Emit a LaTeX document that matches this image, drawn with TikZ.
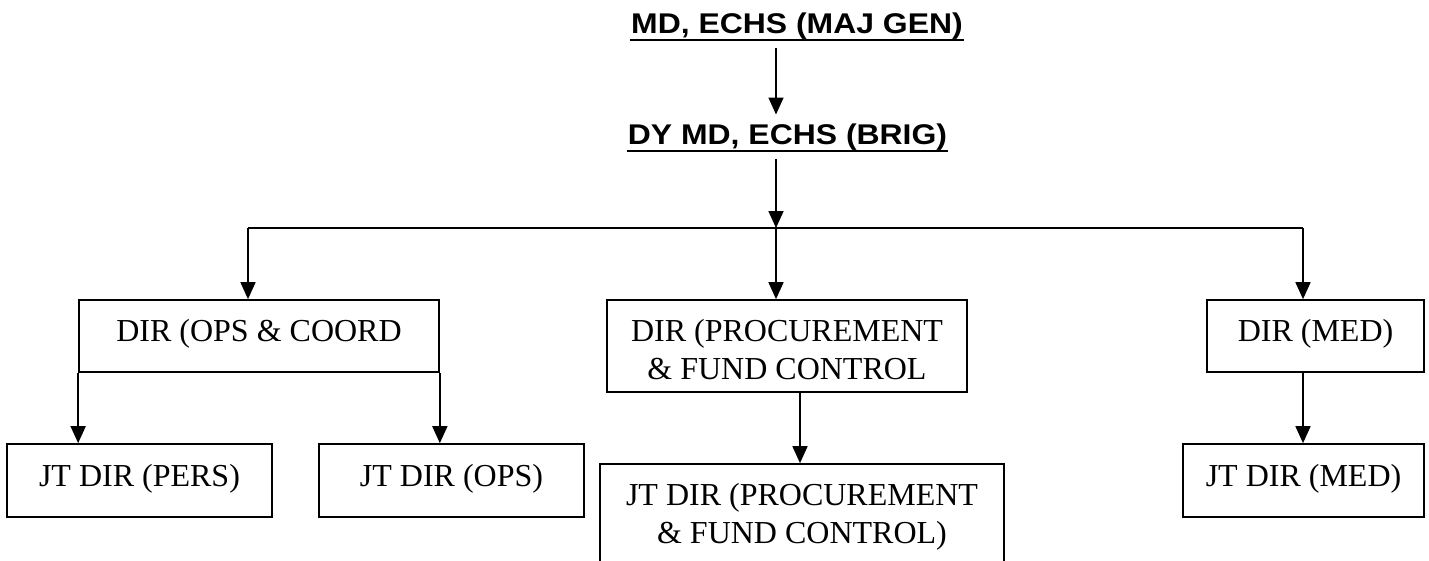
\documentclass[tikz,border=0pt]{standalone}
\usepackage{fontspec}
\setmainfont{Liberation Serif}
\newfontfamily\headfont{Liberation Sans}[FakeStretch=1.12]
\usetikzlibrary{arrows.meta}

\begin{document}
\begin{tikzpicture}[x=1pt,y=-1pt,>={Triangle[length=17pt,width=15pt]},line width=1.7pt,
    post/.style={draw,font=\fontsize{32}{38}\selectfont,inner sep=0pt,text height=26pt,text depth=15pt},
    head/.style={font=\headfont\bfseries\fontsize{28.5}{32}\selectfont,inner xsep=0pt,inner ysep=8pt,anchor=base}]
                \useasboundingbox (0,0) rectangle (1429,560);
                \clip (0,0) rectangle (1429,560);
                \node[head] (md) at (797,33) {MD, ECHS (MAJ GEN)};
                \node[head] (dymd) at (787.5,144) {DY MD, ECHS (BRIG)};
                \draw[line width=2.2pt] ([yshift=-7pt]md.base west) -- ([yshift=-7pt]md.base east);
                \draw[line width=2.2pt] ([yshift=-7pt]dymd.base west) -- ([yshift=-7pt]dymd.base east);
                \coordinate (spine) at (776,0);
                \coordinate (bar) at (776,228);
                \coordinate (opsin) at (248,228);
                \coordinate (medin) at (1303,228);
                \coordinate (procout) at (800,0);
                \node[post,minimum width=360pt,minimum height=72pt] (ops) at (259,336) {DIR (OPS \& COORD};
                \node[post,minimum width=360pt,minimum height=92pt,align=center,text height=73pt,text depth=7pt] (proc) at (787,346) {DIR (PROCUREMENT\\ \& FUND CONTROL};
                \node[post,minimum width=217pt,minimum height=72pt] (med) at (1315.5,336) {DIR (MED)};
                \node[post,minimum width=265pt,minimum height=73pt] (pers) at (139.5,480.5) {JT DIR (PERS)};
                \node[post,minimum width=265pt,minimum height=73pt] (jops) at (451.5,480.5) {JT DIR (OPS)};
                \node[post,minimum width=404pt,minimum height=98pt,align=center,text height=67pt,text depth=7pt] (jproc) at (802,513) {JT DIR (PROCUREMENT\\ \& FUND CONTROL)};
                \node[post,minimum width=241pt,minimum height=73pt] (jmed) at (1303.5,480.5) {JT DIR (MED)};
                \draw[->] (md.south -| spine) -- (dymd.north -| spine);
                \draw[->] (dymd.south -| spine) -- (bar);
                \draw (opsin) -- (medin);
                \draw[->] (opsin) -- (opsin |- ops.north);
                \draw[->] (bar) -- (bar |- proc.north);
                \draw[->] (medin) -- (medin |- med.north);
                \draw[->] (ops.south west) -- (ops.south west |- pers.north);
                \draw[->] (ops.south east) -- (ops.south east |- jops.north);
                \draw[->] (proc.south -| procout) -- (procout |- jproc.north);
                \draw[->] (med.south -| medin) -- (medin |- jmed.north);
            \end{tikzpicture}
\end{document}
